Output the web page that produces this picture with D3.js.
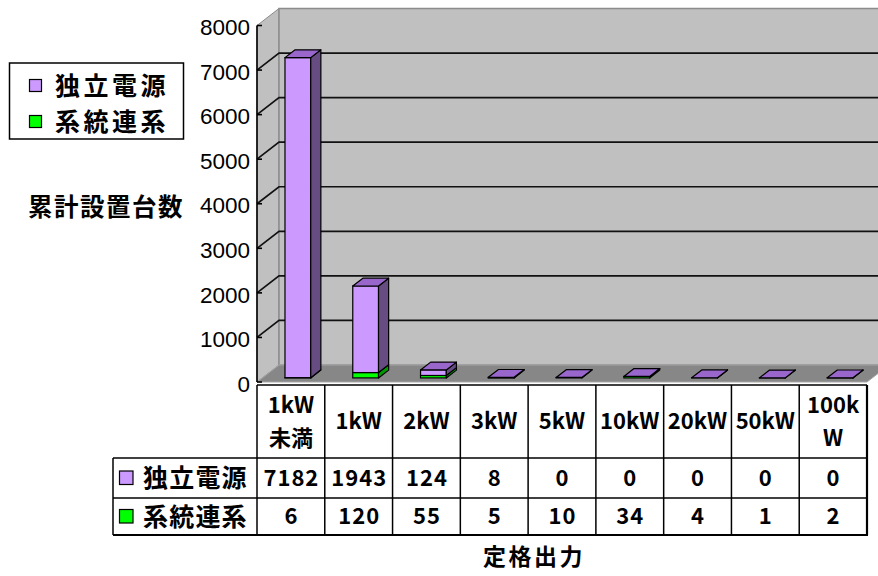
<!DOCTYPE html>
<html>
<head>
<meta charset="utf-8">
<script src="https://cdn.jsdelivr.net/npm/d3@7"></script>
<style>
  body { margin: 0; background: #fff; }
  svg { display: block; }
</style>
</head>
<body>
<svg id="chart" width="878" height="576"></svg>
<script>
// Rated output classes and cumulative installed counts
const categories = ["1kW未満", "1kW", "2kW", "3kW", "5kW", "10kW", "20kW", "50kW", "100kW"];
const categoryLines = [["1kW", "未満"], ["1kW"], ["2kW"], ["3kW"], ["5kW"], ["10kW"], ["20kW"], ["50kW"], ["100k", "W"]];
const seriesNames = ["独立電源", "系統連系"];
const standalone = [7182, 1943, 124, 8, 0, 0, 0, 0, 0];   // 独立電源
const gridTied = [6, 120, 55, 5, 10, 34, 4, 1, 2];        // 系統連系
const yTicks = [0, 1000, 2000, 3000, 4000, 5000, 6000, 7000, 8000];
const yTitle = "累計設置台数";
const xTitle = "定格出力";

const colors = {
  purple: { front: "#CC99FF", side: "#664C80", top: "#9966CC" },
  green:  { front: "#00FF00", side: "#009900", top: "#00CC00" }
};
const CJK = "'Noto Sans CJK JP', 'Noto Sans CJK SC', sans-serif";

const svg = d3.select("#chart");

// Front plane scales; depth is drawn as an oblique offset
const x = d3.scaleBand().domain(categories).range([257, 867]);
const y = d3.scaleLinear().domain([0, 8000]).range([382, 25.5]);
const DX = 22, DY = -17;           // full depth of the plot box
const F0 = 0.24, F1 = 0.70;        // bar front / back depth fractions

const yTop = y(8000), yBase = y(0);
const xLeft = x.range()[0], xRight = x.range()[1];

// Left side wall
svg.append("polygon")
  .attr("points", [[xLeft, yTop], [xLeft + DX, yTop + DY], [xLeft + DX, yBase + DY], [xLeft, yBase]].join(" "))
  .attr("fill", "#C0C0C0").attr("stroke", "#8c8c8c").attr("stroke-width", 1);

// Back wall
svg.append("rect")
  .attr("x", xLeft + DX).attr("y", yTop + DY)
  .attr("width", 900 - (xLeft + DX)).attr("height", yBase - yTop)
  .attr("fill", "#C0C0C0").attr("stroke", "#8c8c8c").attr("stroke-width", 1.5);

// Gridlines across side wall and back wall
const grid = svg.append("g").attr("stroke", "#111").attr("stroke-width", 1.7).attr("fill", "none");
yTicks.filter(v => v > 0 && v < 8000).forEach(v => {
  const yy = y(v);
  grid.append("path")
    .attr("d", `M${xLeft},${yy} L${xLeft + DX},${yy + DY} L900,${yy + DY}`);
});

// Floor
svg.append("polygon")
  .attr("points", [[xLeft, yBase], [xRight, yBase], [xRight + DX, yBase + DY], [xLeft + DX, yBase + DY]].join(" "))
  .attr("fill", "#878787").attr("stroke", "#a6a6a6").attr("stroke-width", 1);

// Value axis line and ticks
svg.append("line")
  .attr("x1", xLeft).attr("x2", xLeft).attr("y1", yTop).attr("y2", yBase)
  .attr("stroke", "#000").attr("stroke-width", 1.6);
svg.append("g").selectAll("line").data(yTicks).join("line")
  .attr("x1", xLeft).attr("x2", xLeft + 5)
  .attr("y1", d => y(d)).attr("y2", d => y(d))
  .attr("stroke", "#000").attr("stroke-width", 1.6);

// Tick labels through a d3 axis
const yAxisG = svg.append("g").attr("transform", "translate(250,2)")
  .call(d3.axisLeft(y).tickValues(yTicks).tickSize(0).tickPadding(0).tickFormat(d3.format("d")));
yAxisG.select(".domain").remove();
yAxisG.selectAll("text")
  .attr("font-family", "'Liberation Sans', Arial, sans-serif")
  .attr("font-size", 22.5).attr("fill", "#000");

// Stacked 3D columns
const bw = x.bandwidth();
const barW = bw * 0.38;
const barOff = bw * 0.335;

function prism(g, x0, v0, v1, c, withTop) {
  const ox = F0 * DX, oy = F0 * DY;
  const dx = (F1 - F0) * DX, dy = (F1 - F0) * DY;
  const xl = x0 + ox, xr = x0 + ox + barW;
  const yb = y(v0) + oy, yt = y(v1) + oy;
  g.append("rect").attr("x", xl).attr("y", yt).attr("width", barW).attr("height", Math.max(0, yb - yt))
    .attr("fill", c.front).attr("stroke", "#000").attr("stroke-width", 1.2);
  g.append("polygon")
    .attr("points", [[xr, yt], [xr + dx, yt + dy], [xr + dx, yb + dy], [xr, yb]].join(" "))
    .attr("fill", c.side).attr("stroke", "#000").attr("stroke-width", 1.2).attr("stroke-linejoin", "round");
  if (withTop) {
    g.append("polygon")
      .attr("points", [[xl, yt], [xl + dx, yt + dy], [xr + dx, yt + dy], [xr, yt]].join(" "))
      .attr("fill", c.top).attr("stroke", "#000").attr("stroke-width", 1.2).attr("stroke-linejoin", "round");
  }
}

const bars = svg.append("g");
categories.forEach((cat, i) => {
  const g = bars.append("g");
  const x0 = x(cat) + barOff;
  const g1 = gridTied[i], s1 = g1 + standalone[i];
  if (g1 > 0) prism(g, x0, 0, g1, colors.green, false);
  prism(g, x0, g1, s1, colors.purple, true);
});

// Data table
const tTop = 385, tHead = 458, tMid = 498, tBot = 535, rowHeadX = 113;
const table = svg.append("g").attr("stroke", "#000").attr("stroke-width", 1.5).attr("fill", "none");
table.append("line").attr("x1", xLeft).attr("x2", xRight).attr("y1", tTop).attr("y2", tTop);
table.append("line").attr("x1", rowHeadX).attr("x2", xRight).attr("y1", tHead).attr("y2", tHead);
table.append("line").attr("x1", rowHeadX).attr("x2", xRight).attr("y1", tMid).attr("y2", tMid);
table.append("line").attr("x1", rowHeadX).attr("x2", xRight + 1).attr("y1", tBot).attr("y2", tBot).attr("stroke-width", 2.2);
table.append("line").attr("x1", rowHeadX).attr("x2", rowHeadX).attr("y1", tHead).attr("y2", tBot);
categories.forEach(cat => {
  table.append("line").attr("x1", x(cat)).attr("x2", x(cat)).attr("y1", tTop).attr("y2", tBot);
});
table.append("line").attr("x1", xRight).attr("x2", xRight).attr("y1", tTop).attr("y2", tBot).attr("stroke-width", 2.2);

const cellText = svg.append("g")
  .attr("font-family", CJK).attr("font-weight", 700).attr("font-size", 22)
  .attr("text-anchor", "middle").attr("fill", "#000");
categories.forEach((cat, i) => {
  const cx = x(cat) + bw / 2;
  const lines = categoryLines[i];
  const headMid = (tTop + tHead) / 2;
  lines.forEach((ln, k) => {
    const cy = lines.length === 1 ? headMid : headMid + (k === 0 ? -16.5 : 16.5);
    cellText.append("text").attr("x", cx).attr("y", cy).attr("dy", "0.36em").text(ln);
  });
  cellText.append("text").attr("x", cx + 0.5).attr("y", (tHead + tMid) / 2).attr("dy", "0.36em")
    .attr("letter-spacing", 1).text(standalone[i]);
  cellText.append("text").attr("x", cx + 0.5).attr("y", (tMid + tBot) / 2).attr("dy", "0.36em")
    .attr("letter-spacing", 1).text(gridTied[i]);
});

// Row headers with series keys
const rowKeys = [
  { name: seriesNames[0], color: colors.purple.front, cy: (tHead + tMid) / 2 },
  { name: seriesNames[1], color: colors.green.front, cy: (tMid + tBot) / 2 }
];
rowKeys.forEach(r => {
  svg.append("rect").attr("x", 119.5).attr("y", r.cy - 7).attr("width", 13.5).attr("height", 13.5)
    .attr("fill", r.color).attr("stroke", "#000").attr("stroke-width", 1.2);
  svg.append("text").attr("x", 143).attr("y", r.cy).attr("dy", "0.36em")
    .attr("font-family", CJK).attr("font-weight", 700).attr("font-size", 25)
    .attr("letter-spacing", 1.2).attr("fill", "#000").text(r.name);
});

// Legend
const legend = svg.append("g");
legend.append("rect").attr("x", 9.5).attr("y", 63).attr("width", 174).attr("height", 76)
  .attr("fill", "#fff").attr("stroke", "#000").attr("stroke-width", 1.5);
[[seriesNames[0], colors.purple.front, 85.5], [seriesNames[1], colors.green.front, 121.5]].forEach(([name, col, cy]) => {
  legend.append("rect").attr("x", 29.5).attr("y", cy - 6).attr("width", 12).attr("height", 12)
    .attr("fill", col).attr("stroke", "#000").attr("stroke-width", 1.2);
  legend.append("text").attr("x", 55).attr("y", cy).attr("dy", "0.36em")
    .attr("font-family", CJK).attr("font-weight", 700).attr("font-size", 25)
    .attr("letter-spacing", 3.5).attr("fill", "#000").text(name);
});

// Axis titles
svg.append("text").attr("x", 28).attr("y", 207).attr("dy", "0.36em")
  .attr("font-family", CJK).attr("font-weight", 700).attr("font-size", 24.5)
  .attr("letter-spacing", 1.5).attr("fill", "#000").text(yTitle);
svg.append("text").attr("x", 483).attr("y", 557).attr("dy", "0.36em")
  .attr("font-family", CJK).attr("font-weight", 700).attr("font-size", 23)
  .attr("letter-spacing", 2.5).attr("fill", "#000").text(xTitle);
</script>
</body>
</html>
